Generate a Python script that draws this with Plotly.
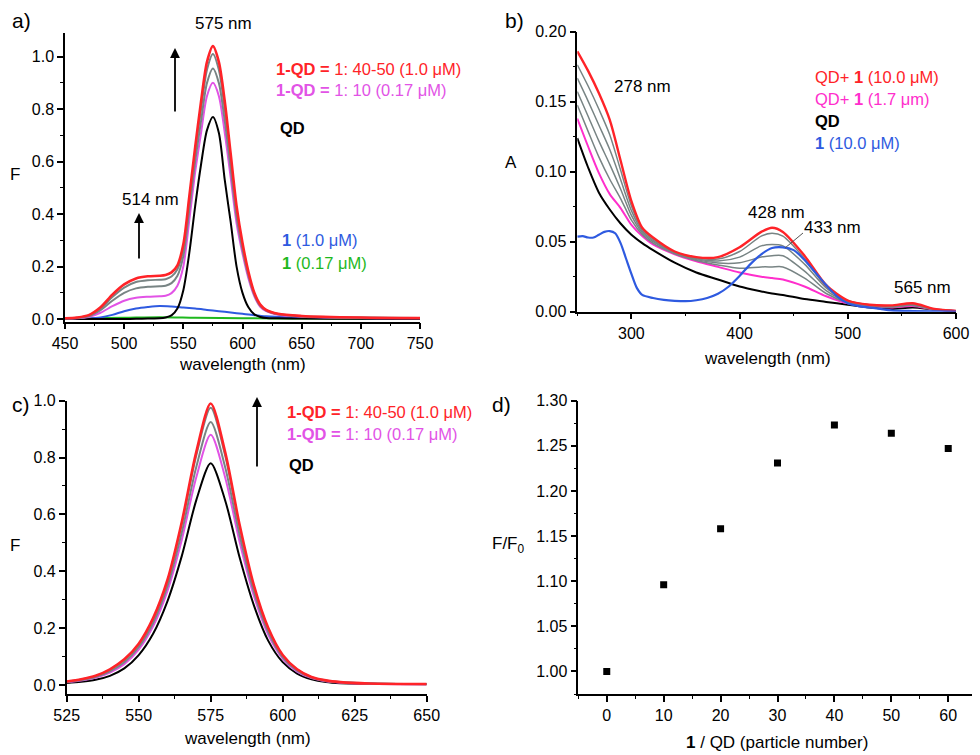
import plotly.graph_objects as go

# reference canvas is 980x755; the page body adds an 8px margin, so the
# figure itself is drawn 8px smaller and everything is placed 8px up/left
W, H = 980, 755
OFF = 8
FW, FH = W - OFF, H - OFF

# ---- panel a: fluorescence, 450-750 nm ----
wl_a = [450, 460, 470, 480, 490, 500, 510, 520, 530, 535, 540, 545, 550, 555, 560, 565,
        570, 575, 580, 585, 590, 595, 600, 605, 610, 615, 620, 630, 650, 700, 750]
red_a = [.003, .006, .015, .045, .093, .132, .155, .163, .165, .168, .178, .205, .285, .465, .655, .83,
         .98, 1.04, .98, .83, .63, .43, .29, .18, .10, .055, .035, .02, .012, .006, .004]
gray_a1 = [.003, .005, .013, .04, .084, .12, .141, .148, .15, .152, .162, .19, .265, .445, .635, .80,
           .95, 1.01, .95, .80, .61, .415, .28, .174, .097, .053, .034, .019, .011, .006, .004]
gray_a2 = [.002, .004, .011, .034, .07, .10, .117, .123, .125, .127, .137, .165, .24, .415, .60, .755,
           .90, .955, .90, .755, .575, .39, .265, .165, .092, .05, .032, .018, .01, .005, .003]
mag_a = [.002, .003, .008, .024, .049, .07, .081, .085, .087, .089, .099, .127, .20, .375, .56, .71,
         .85, .90, .85, .71, .54, .365, .25, .155, .087, .047, .03, .016, .009, .004, .003]
black_a = [0, 0, 0, 0, 0, 0, .001, .002, .003, .006, .014, .04, .11, .25, .43, .59,
           .72, .77, .71, .53, .37, .20, .10, .045, .018, .008, .004, .003, .002, .001, 0]
wl_blue_a = [450, 470, 480, 490, 500, 510, 520, 530, 540, 550, 560, 570, 580, 590, 600,
             610, 620, 640, 660, 700, 750]
blue_a = [0, .002, .006, .016, .03, .04, .046, .05, .048, .044, .04, .035, .03, .025, .02,
          .015, .011, .007, .005, .003, .002]
wl_green_a = [450, 500, 530, 560, 600, 650, 750]
green_a = [.002, .005, .007, .005, .003, .002, .001]

# ---- panel b: absorbance, 250-600 nm ----
wl_b = [250, 260, 270, 280, 290, 300, 310, 320, 340, 360, 380, 400, 420, 430, 440,
        460, 480, 500, 520, 540, 560, 580, 600]
red_b = [.186, .172, .156, .137, .108, .079, .060, .053, .043, .039, .039, .046, .057, .060, .057,
         .040, .019, .008, .005, .0045, .006, .002, .0005]
gray_b1 = [.1764, .1612, .1446, .1264, .1012, .0756, .0588, .052, .0426, .0384, .0376, .043, .054, .056, .054,
           .038, .018, .008, .005, .0042, .0055, .0018, .0005]
gray_b2 = [.1668, .1504, .1332, .1158, .0944, .0722, .0576, .051, .0422, .0378, .0362, .039, .047, .048, .047,
           .034, .017, .0075, .0048, .004, .005, .0017, .0005]
gray_b3 = [.1572, .1396, .1218, .1052, .0876, .0688, .0564, .050, .0418, .0372, .0348, .035, .039, .040, .040,
           .029, .015, .007, .0045, .0035, .0048, .0016, .0005]
gray_b4 = [.1476, .1288, .1104, .0946, .0808, .0654, .0552, .049, .0414, .0366, .0334, .031, .032, .032, .032,
           .024, .013, .0065, .0042, .0033, .0045, .0015, .0005]
mag_b = [.138, .118, .099, .084, .074, .062, .054, .048, .041, .036, .032, .028, .025, .024, .023,
         .018, .011, .006, .004, .003, .004, .0015, .0005]
black_b = [.124, .103, .085, .073, .063, .055, .049, .044, .035, .028, .023, .018, .0145, .013, .012,
           .009, .007, .005, .003, .002, .003, .0015, .0005]
wl_blue_b = [250, 255, 260, 265, 270, 275, 280, 285, 290, 295, 300, 305, 310, 320, 330,
             340, 350, 360, 370, 380, 390, 400, 410, 420, 430, 440, 450, 460, 470, 480,
             490, 500, 510, 520, 530, 540, 560, 600]
blue_b = [.0536, .054, .053, .053, .055, .057, .0576, .056, .049, .038, .027, .017, .012, .0098, .0085,
          .0078, .0075, .0082, .0098, .0128, .018, .0255, .034, .041, .0455, .046, .044, .037, .028, .019,
          .011, .006, .004, .003, .002, .001, .0005, 0]

# ---- panel c: fluorescence zoom, 525-650 nm ----
wl_c = [525, 530, 535, 540, 545, 550, 555, 560, 565, 570, 575, 580, 585, 590, 595,
        600, 605, 610, 615, 620, 630, 650]
red_c = [.012, .02, .032, .055, .09, .145, .235, .37, .575, .82, .99, .82, .565, .35, .20,
         .105, .055, .028, .016, .01, .005, .003]
gray_c1 = [.0117, .0194, .031, .053, .0878, .142, .231, .365, .567, .808, .975, .808, .557, .345, .197,
           .103, .054, .027, .016, .01, .005, .003]
gray_c2 = [.0105, .0172, .028, .048, .080, .133, .218, .347, .538, .767, .925, .767, .529, .328, .186,
           .097, .050, .0255, .014, .009, .005, .003]
mag_c = [.0094, .0154, .025, .043, .0732, .124, .206, .331, .512, .731, .88, .731, .505, .313, .176,
         .092, .047, .024, .013, .008, .0045, .0025]
black_c = [.007, .011, .018, .032, .058, .105, .18, .295, .455, .65, .78, .65, .45, .28, .155,
           .08, .04, .02, .01, .006, .004, .002]

# ---- panel d: F/F0 vs ratio ----
ratio_d = [0, 10, 20, 30, 40, 50, 60]
ff0_d = [1.000, 1.096, 1.158, 1.231, 1.273, 1.264, 1.247]

RED = '#FF2328'
GRAY = '#788484'
MAG_A = '#E253E6'
MAG_B = '#FF2ECC'
BLUE = '#2E5AE0'
GREEN = '#1EB81E'
FONT = 'Liberation Sans, Arial, sans-serif'

fig = go.Figure()


def line(x, y, color, xa, ya, width=2.0):
    fig.add_trace(go.Scatter(x=x, y=y, mode='lines', xaxis=xa, yaxis=ya,
                             line=dict(color=color, width=width, shape='spline', smoothing=0.8),
                             showlegend=False, hoverinfo='skip'))


# panel a
line(wl_green_a, green_a, GREEN, 'x', 'y')
line(wl_blue_a, blue_a, BLUE, 'x', 'y')
line(wl_a, black_a, 'black', 'x', 'y')
line(wl_a, mag_a, MAG_A, 'x', 'y')
line(wl_a, gray_a2, GRAY, 'x', 'y')
line(wl_a, gray_a1, GRAY, 'x', 'y')
line(wl_a, red_a, RED, 'x', 'y', 2.6)

# panel b
line(wl_b, black_b, 'black', 'x2', 'y2')
line(wl_b, mag_b, MAG_B, 'x2', 'y2')
for g in (gray_b4, gray_b3, gray_b2, gray_b1):
    line(wl_b, g, GRAY, 'x2', 'y2', 1.5)
line(wl_b, red_b, RED, 'x2', 'y2', 2.4)
line(wl_blue_b, blue_b, BLUE, 'x2', 'y2', 2.2)

# panel c
line(wl_c, black_c, 'black', 'x3', 'y3')
line(wl_c, mag_c, MAG_A, 'x3', 'y3')
line(wl_c, gray_c2, GRAY, 'x3', 'y3')
line(wl_c, gray_c1, GRAY, 'x3', 'y3')
line(wl_c, red_c, RED, 'x3', 'y3', 2.6)

# panel d
fig.add_trace(go.Scatter(x=ratio_d, y=ff0_d, mode='markers', xaxis='x4', yaxis='y4',
                         marker=dict(symbol='square', size=7, color='black'),
                         showlegend=False, hoverinfo='skip'))


def axis(domain, rng, dtick, minor, anchor, fmt=None):
    d = dict(domain=domain, range=rng, dtick=dtick, tick0=0, anchor=anchor,
             automargin=False,
             showline=True, linecolor='black', linewidth=1.5,
             ticks='outside', ticklen=6, tickwidth=1.5, tickcolor='black',
             minor=dict(dtick=minor, tick0=0, ticks='outside', ticklen=3, tickwidth=1.2,
                        tickcolor='black', showgrid=False),
             showgrid=False, zeroline=False,
             tickfont=dict(size=16, color='black', family=FONT))
    if fmt:
        d['tickformat'] = fmt
    return d


def px_x(x):
    return (x - OFF) / FW


def px_y(y):
    return 1 - (y - OFF) / FH


def xd(l, r):
    return [px_x(l), px_x(r)]


def yd(b, t):
    return [px_y(b), px_y(t)]


fig.update_layout(
    width=FW, height=FH, margin=dict(l=0, r=0, t=0, b=0, autoexpand=False),
    paper_bgcolor='white', plot_bgcolor='white',
    font=dict(family=FONT, color='black'),
    xaxis=axis(xd(65, 420), [450, 750], 50, 25, 'y'),
    yaxis=axis(yd(321.7, 33), [-0.01, 1.09], 0.2, 0.1, 'x', '.1f'),
    xaxis2=axis(xd(577.3, 956), [250, 600], 100, 50, 'y2'),
    yaxis2=axis(yd(311.7, 31.7), [0, 0.2], 0.05, 0.025, 'x2', '.2f'),
    xaxis3=axis(xd(66.7, 426.7), [525, 650], 25, 12.5, 'y3'),
    yaxis3=axis(yd(694.3, 400.7), [-0.033, 1.0], 0.2, 0.1, 'x3', '.1f'),
    xaxis4=axis(xd(578.3, 976.7), [-5, 65], 10, 5, 'y4'),
    yaxis4=axis(yd(694, 400.7), [0.975, 1.30], 0.05, 0.025, 'x4', '.2f'),
)


def note(px, py, text, size=17, color='black', xanchor='left'):
    return dict(x=px_x(px), y=px_y(py), xref='paper', yref='paper', text=text,
                showarrow=False, font=dict(size=size, color=color, family=FONT),
                xanchor=xanchor, yanchor='middle')


def arrow(px, tip, tail):
    return dict(x=px_x(px), y=px_y(tip), xref='paper', yref='paper', text='',
                showarrow=True, ax=0, ay=tail - tip, arrowhead=2, arrowsize=1.1,
                arrowwidth=1.8, arrowcolor='black')


MU = 'μ'
LEG = 16.5
notes = [
    # panel a
    note(10, 21, 'a)', 21),
    note(223, 23, '575 nm', xanchor='center'),
    note(150, 200, '514 nm', xanchor='center'),
    note(274, 69, '<b>1-QD =</b> 1: 40-50 (1.0 %sM)' % MU, LEG, RED),
    note(274, 90, '<b>1-QD =</b> 1: 10 (0.17 %sM)' % MU, LEG, MAG_A),
    note(278, 128, '<b>QD</b>', LEG),
    note(280, 240, '<b>1</b> (1.0 %sM)' % MU, LEG, BLUE),
    note(280, 263, '<b>1</b> (0.17 %sM)' % MU, LEG, GREEN),
    note(8, 174, 'F'),
    note(242, 365, 'wavelength (nm)', xanchor='center'),
    arrow(175, 48, 113),
    arrow(139, 213, 260),
    # panel b
    note(503, 21, 'b)', 21),
    note(642, 87, '278 nm', xanchor='center'),
    note(776, 212, '428 nm', xanchor='center'),
    note(832, 227, '433 nm', xanchor='center'),
    note(922, 287, '565 nm', xanchor='center'),
    note(813, 77, 'QD+ <b>1</b> (10.0 %sM)' % MU, LEG, RED),
    note(813, 99, 'QD+ <b>1</b> (1.7 %sm)' % MU, LEG, MAG_B),
    note(813, 121, '<b>QD</b>', LEG),
    note(813, 143, '<b>1</b> (10.0 %sM)' % MU, LEG, BLUE),
    note(503, 162, 'A'),
    note(767, 358, 'wavelength (nm)', xanchor='center'),
    # panel c
    note(10, 405, 'c)', 21),
    note(285, 412, '<b>1-QD =</b> 1: 40-50 (1.0 %sM)' % MU, LEG, RED),
    note(285, 434, '<b>1-QD =</b> 1: 10 (0.17 %sM)' % MU, LEG, MAG_A),
    note(287, 465, '<b>QD</b>', LEG),
    note(8, 545, 'F'),
    note(247, 738, 'wavelength (nm)', xanchor='center'),
    arrow(257, 397, 468),
    # panel d
    note(490, 405, 'd)', 21),
    note(490, 545, 'F/F<sub>0</sub>'),
    note(777, 742, '<b>1</b> / QD (particle number)', xanchor='center'),
]
fig.update_layout(annotations=notes)

# leader line for the 433 nm label
fig.add_shape(type='line', xref='paper', yref='paper',
              x0=px_x(803), y0=px_y(233), x1=px_x(785), y1=px_y(248),
              line=dict(color='#555555', width=1))

fig.write_html("out.html")
